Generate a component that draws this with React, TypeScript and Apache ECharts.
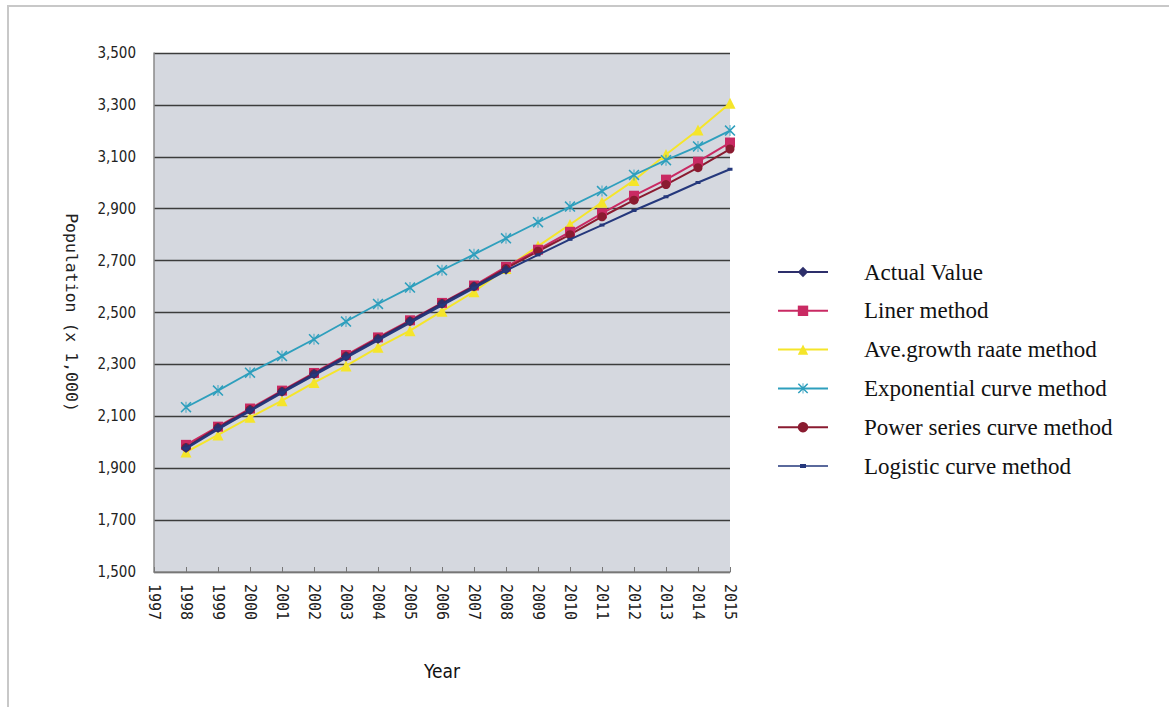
import React, { useEffect, useRef } from "react";
import * as echarts from "echarts";

const years = [1998, 1999, 2000, 2001, 2002, 2003, 2004, 2005, 2006, 2007, 2008, 2009, 2010, 2011, 2012, 2013, 2014, 2015];
const actualYears = [1998, 1999, 2000, 2001, 2002, 2003, 2004, 2005, 2006, 2007, 2008];
const actualValue = [1978, 2055, 2124, 2195, 2263, 2330, 2398, 2466, 2534, 2600, 2665];
const linerMethod = [1990, 2060, 2130, 2199, 2267, 2336, 2404, 2470, 2537, 2604, 2676, 2742, 2811, 2882, 2950, 3012, 3081, 3155];
const aveGrowth = [1962, 2028, 2096, 2160, 2230, 2294, 2366, 2430, 2505, 2580, 2670, 2756, 2839, 2925, 3009, 3109, 3203, 3306];
const exponential = [2135, 2199, 2268, 2332, 2397, 2465, 2533, 2596, 2663, 2724, 2786, 2848, 2908, 2968, 3030, 3087, 3140, 3201];
const powerSeries = [1980, 2057, 2126, 2196, 2264, 2332, 2400, 2467, 2535, 2601, 2670, 2736, 2800, 2869, 2933, 2993, 3058, 3130];
const logistic = [1975, 2050, 2120, 2190, 2258, 2325, 2393, 2460, 2527, 2594, 2661, 2722, 2782, 2837, 2893, 2946, 3001, 3052];

const seriesNames = [
  "Actual Value",
  "Liner method",
  "Ave.growth raate method",
  "Exponential curve method",
  "Power series curve method",
  "Logistic curve method",
];

const pairs = (xs: number[], vs: number[]) => vs.map((v, i) => [xs[i], v]);

const X_SYMBOL = "path://M1,0 L5,4 L9,0 L10,1 L6,5 L10,9 L9,10 L5,6 L1,10 L0,9 L4,5 L0,1 Z M4.6,0 L5.4,0 L5.4,10 L4.6,10 Z";

export default function App() {
  const ref = useRef<HTMLDivElement>(null);
  useEffect(() => {
    if (!ref.current) return;
    const chart = echarts.init(ref.current, null, { renderer: "svg" });
    const mk = (name: string, data: any[], color: string, symbol: string, symbolSize: any, z: number, width = 2) => ({
      name,
      type: "line",
      data,
      z,
      symbol,
      symbolSize,
      showSymbol: true,
      lineStyle: { color, width },
      itemStyle: { color, borderWidth: 0 },
      emphasis: { disabled: true },
    });
    chart.setOption({
      animation: false,
      backgroundColor: "#ffffff",
      graphic: [
        {
          type: "rect",
          silent: true,
          shape: { x: 8, y: 6, width: 1200, height: 760 },
          style: { fill: "none", stroke: "#c8c8c8", lineWidth: 2 },
        },
      ],
      grid: {
        left: 154,
        top: 53,
        right: 439,
        bottom: 135,
        show: true,
        backgroundColor: "#d5d8df",
        borderWidth: 0,
      },
      legend: {
        orient: "vertical",
        left: 772,
        top: 255,
        itemWidth: 50,
        itemHeight: 13,
        itemGap: 14.8,
        data: seriesNames.map((n, i) =>
          i === 5
            ? { name: n, icon: "path://M0,4.2 L50,4.2 L50,5.8 L0,5.8 Z M22,3 L28,3 L28,7 L22,7 Z" }
            : { name: n }
        ),
        selectedMode: false,
        textStyle: {
          fontFamily: "Liberation Serif, Times New Roman, serif",
          fontSize: 23,
          color: "#111111",
          lineHeight: 24,
          padding: [0, 0, 0, 31],
        },
      },
      xAxis: {
        type: "value",
        min: 1997,
        max: 2015,
        interval: 1,
        name: "Year",
        nameLocation: "middle",
        nameGap: 89,
        nameTextStyle: {
          fontFamily: "Liberation Sans Narrow, DejaVu Sans Condensed, sans-serif",
          fontSize: 19,
          color: "#111",
        },
        splitLine: { show: false },
        axisLine: { show: true, lineStyle: { color: "#8a8a8a", width: 1.5 } },
        axisTick: { show: true, inside: true, length: 5, lineStyle: { color: "#777" } },
        axisLabel: {
          rotate: -90,
          margin: 12,
          formatter: (v: number) => String(v),
          fontFamily: "DejaVu Sans Mono, monospace",
          fontSize: 15,
          color: "#222",
        },
      },
      yAxis: {
        type: "value",
        min: 1500,
        max: 3500,
        interval: 200,
        name: "Population (x 1,000)",
        nameLocation: "middle",
        nameRotate: -90,
        nameGap: 74,
        nameTextStyle: {
          fontFamily: "DejaVu Sans Mono, monospace",
          fontSize: 16.5,
          color: "#222",
        },
        axisLine: { show: true, lineStyle: { color: "#8a8a8a", width: 1.5 } },
        axisTick: { show: false },
        splitLine: { show: true, lineStyle: { color: "#3c3c3c", width: 1.3 } },
        axisLabel: {
          margin: 18,
          formatter: (v: number) => v.toLocaleString("en-US"),
          fontFamily: "Liberation Sans Narrow, DejaVu Sans Condensed, sans-serif",
          fontSize: 15,
          color: "#222",
        },
      },
      series: [
        mk(seriesNames[0], pairs(actualYears, actualValue), "#2d2f6b", "diamond", 10, 5),
        mk(seriesNames[1], pairs(years, linerMethod), "#c92a63", "rect", 10, 4),
        mk(seriesNames[2], pairs(years, aveGrowth), "#f5e52a", "triangle", 11, 2),
        mk(seriesNames[3], pairs(years, exponential), "#2e9fbd", X_SYMBOL, 11, 3, 1.8),
        mk(seriesNames[4], pairs(years, powerSeries), "#8a1b30", "circle", 9, 4),
        mk(seriesNames[5], pairs(years, logistic), "#25387c", "rect", [5, 3], 6),
      ],
    });
    return () => chart.dispose();
  }, []);
  return (
    <div
      ref={ref}
      style={{ position: "fixed", left: 0, top: 0, width: 1169, height: 707 }}
    />
  );
}
